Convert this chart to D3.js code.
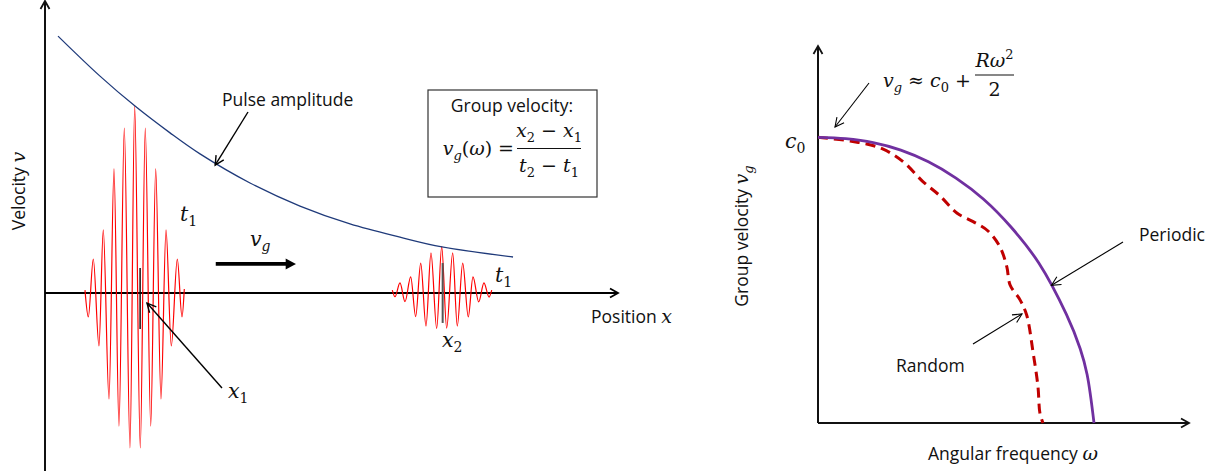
<!DOCTYPE html>
<html>
<head>
<meta charset="utf-8">
<script src="https://cdn.jsdelivr.net/npm/d3@7"></script>
<style>
  html, body { margin: 0; padding: 0; background: #fff; }
  svg { display: block; }
  .sans { font-family: "Open Sans", sans-serif; font-size: 17.5px; fill: #111; }
  .math { font-family: "DejaVu Serif", serif; font-size: 19px; fill: #111; }
  .math.big { font-size: 20.5px; }
</style>
</head>
<body>
<svg id="chart" width="1222" height="471"></svg>
<script>
// ---- Left panel: wave packets travelling along x (position units 0..100, velocity units) ----
// Extremes of the first packet [x, v]
const packetOne = [
  [6.98, 1.0], [7.56, -8.3], [8.43, 11.8], [9.42, -18.4], [10.17, 21.9],
  [11.17, -36.8], [12.04, 43.1], [12.91, -46.2], [13.84, 57.3], [14.83, -53.8],
  [15.65, 64.9], [16.63, -53.8], [17.50, 57.3], [18.45, -46.2], [19.32, 43.1],
  [20.24, -36.8], [21.12, 21.9], [22.04, -18.4], [23.09, 11.8], [23.91, -8.3],
  [24.31, 1.4]
];
// Extremes of the second (later, spread-out) packet [x, v]
const packetTwo = [
  [60.61, 1.0], [61.08, -1.3], [61.95, 3.5], [62.83, -3.0], [63.82, 5.6],
  [64.69, -8.2], [65.57, 10.4], [66.49, -11.5], [67.36, 13.9], [68.36, -12.3],
  [69.23, 16.1], [70.10, -12.2], [71.15, 13.9], [71.95, -11.5], [72.90, 10.4],
  [73.87, -8.3], [74.69, 5.6], [75.69, -3.1], [76.61, 3.5], [77.49, -1.4],
  [77.96, 1.0]
];
// Decaying pulse amplitude [x, v]
const pulseAmplitude = [
  [2.27, 89.2], [9.60, 75.3], [15.71, 64.9], [21.82, 55.6], [27.05, 48.3],
  [35.78, 38.2], [44.50, 30.2], [53.23, 24.0], [61.95, 19.4], [69.28, 16.0],
  [81.68, 12.5]
];
// Packet centres x1, x2 with marker extent [x, vLow, vHigh]
const packetCentres = [[16.6, -12.5, 8.7], [69.4, -10.4, 10.4]];

// ---- Right panel: group velocity against angular frequency (normalised) ----
const periodicCurve = [
  [0, 1], [0.1, 0.995], [0.2, 0.981], [0.3, 0.955], [0.4, 0.914], [0.5, 0.857],
  [0.6, 0.783], [0.7, 0.685], [0.8, 0.56], [0.9, 0.38], [0.95, 0.26],
  [0.975, 0.17], [1.0, 0]
];
const randomCurve = [
  [0, 1], [0.116, 0.987], [0.225, 0.963], [0.308, 0.915], [0.380, 0.845],
  [0.442, 0.795], [0.503, 0.735], [0.562, 0.705], [0.616, 0.672], [0.659, 0.617],
  [0.684, 0.547], [0.696, 0.483], [0.732, 0.431], [0.756, 0.378], [0.779, 0.249],
  [0.797, 0.127], [0.804, 0.035], [0.815, 0]
];

const svg = d3.select("#chart");
svg.append("rect").attr("width", 1222).attr("height", 471).attr("fill", "#fff");

const xL = d3.scaleLinear().domain([0, 100]).range([45, 618]);
const yL = d3.scaleLinear().domain([0, 100]).range([293, 5]);
const xR = d3.scaleLinear().domain([0, 1]).range([818, 1094]);
const yR = d3.scaleLinear().domain([0, 1]).range([423, 137.3]);

// open chevron arrowhead at (x2,y2)
function openHead(g, x1, y1, x2, y2, len, half, sw, col) {
  const a = Math.atan2(y2 - y1, x2 - x1);
  const bx = x2 - len * Math.cos(a), by = y2 - len * Math.sin(a);
  const px = -Math.sin(a) * half, py = Math.cos(a) * half;
  g.append("path")
    .attr("d", `M${bx + px},${by + py}L${x2},${y2}L${bx - px},${by - py}`)
    .attr("fill", "none").attr("stroke", col || "#000")
    .attr("stroke-width", sw).attr("stroke-linejoin", "miter");
}
function arrow(g, x1, y1, x2, y2, sw, len, half) {
  g.append("line").attr("x1", x1).attr("y1", y1).attr("x2", x2).attr("y2", y2)
    .attr("stroke", "#000").attr("stroke-width", sw);
  openHead(g, x1, y1, x2, y2, len, half, sw);
}

// text with italic / subscript / superscript pieces
function addMath(parent, x, y, segs, anchor, big) {
  const t = parent.append("text").attr("class", big ? "math big" : "math")
    .attr("x", x).attr("y", y).attr("text-anchor", anchor || "start");
  let shift = 0;
  segs.forEach(s => {
    const target = s.sub ? 5 : s.sup ? -8 : 0;
    const ts = t.append("tspan").text(s.t).attr("dy", target - shift);
    shift = target;
    if (s.sub || s.sup) ts.attr("font-size", big ? "14px" : "13px");
    if (s.it) ts.attr("font-style", "italic");
  });
  return t;
}

// ================= LEFT PANEL =================
const left = svg.append("g");

// axes
left.append("line").attr("x1", xL(0)).attr("y1", 471).attr("x2", xL(0)).attr("y2", 1)
  .attr("stroke", "#111").attr("stroke-width", 2);
openHead(left, xL(0), 100, xL(0), 1, 8, 4.5, 1.8, "#111");
left.append("line").attr("x1", xL(0)).attr("y1", yL(0)).attr("x2", 618).attr("y2", yL(0))
  .attr("stroke", "#000").attr("stroke-width", 2);
openHead(left, 500, yL(0), 618, yL(0), 8, 4.5, 1.8);

// wave packets
const waveLine = d3.line().x(d => xL(d[0])).y(d => yL(d[1])).curve(d3.curveMonotoneX);
[packetOne, packetTwo].forEach(p => {
  left.append("path").attr("d", waveLine(p)).attr("fill", "none")
    .attr("stroke", "#ff0000").attr("stroke-width", 1.2);
});

// pulse amplitude envelope
const envLine = d3.line().x(d => xL(d[0])).y(d => yL(d[1])).curve(d3.curveCatmullRom.alpha(0.5));
left.append("path").attr("d", envLine(pulseAmplitude)).attr("fill", "none")
  .attr("stroke", "#1f3a7a").attr("stroke-width", 1.3);

// packet centre markers
left.selectAll("line.centre").data(packetCentres).join("line").attr("class", "centre")
  .attr("x1", d => xL(d[0])).attr("x2", d => xL(d[0]))
  .attr("y1", d => yL(d[1])).attr("y2", d => yL(d[2]))
  .attr("stroke", (d, i) => i === 0 ? "#111" : "#555").attr("stroke-width", (d, i) => i === 0 ? 1.5 : 2);

// axis labels
const vLabel = left.append("text").attr("class", "sans")
  .attr("transform", "translate(25,191) rotate(-90)").attr("text-anchor", "middle");
vLabel.append("tspan").text("Velocity ");
vLabel.append("tspan").text("v").attr("font-family", "'DejaVu Serif', serif")
  .attr("font-style", "italic").attr("font-size", "19px");

const posLabel = left.append("text").attr("class", "sans").attr("x", 591).attr("y", 323);
posLabel.append("tspan").text("Position ");
posLabel.append("tspan").text("x").attr("font-family", "'DejaVu Serif', serif")
  .attr("font-style", "italic").attr("font-size", "19px");

// annotations
left.append("text").attr("class", "sans").attr("x", 222).attr("y", 106).text("Pulse amplitude");
arrow(left, 248, 112, xL(29.7), yL(44.4), 1.4, 9, 4.5);

addMath(left, 180, 221, [{ t: "t", it: true }, { t: "1", sub: true }], "start", true);
addMath(left, 495, 282, [{ t: "t", it: true }, { t: "1", sub: true }], "start", true);
addMath(left, 228, 398, [{ t: "x", it: true }, { t: "1", sub: true }], "start", true);
addMath(left, 442, 347, [{ t: "x", it: true }, { t: "2", sub: true }], "start", true);
arrow(left, 222, 388, xL(17.8), yL(-3.5), 1.4, 9, 4.5);

// group velocity arrow
addMath(left, 250, 246, [{ t: "v", it: true }, { t: "g", sub: true, it: true }], "start", true);
left.append("line").attr("x1", xL(29.8)).attr("y1", yL(10.1)).attr("x2", xL(42.5)).attr("y2", yL(10.1))
  .attr("stroke", "#000").attr("stroke-width", 3.6);
left.append("path")
  .attr("d", `M${xL(42.0)},${yL(10.1) - 5.5}L${xL(43.8)},${yL(10.1)}L${xL(42.0)},${yL(10.1) + 5.5}Z`)
  .attr("fill", "#000");

// definition box
left.append("rect").attr("x", 428).attr("y", 90).attr("width", 169).attr("height", 107)
  .attr("fill", "#fff").attr("stroke", "#333").attr("stroke-width", 1.2);
left.append("text").attr("class", "sans").attr("x", 512).attr("y", 112)
  .attr("text-anchor", "middle").text("Group velocity:");
addMath(left, 514, 155, [{ t: "v", it: true }, { t: "g", sub: true, it: true },
  { t: "(" }, { t: "ω", it: true }, { t: ") =" }], "end");
left.append("line").attr("x1", 517).attr("x2", 581).attr("y1", 148.5).attr("y2", 148.5)
  .attr("stroke", "#111").attr("stroke-width", 1.2);
addMath(left, 549, 137, [{ t: "x", it: true }, { t: "2", sub: true }, { t: " − " },
  { t: "x", it: true }, { t: "1", sub: true }], "middle");
addMath(left, 549, 171.5, [{ t: "t", it: true }, { t: "2", sub: true }, { t: " − " },
  { t: "t", it: true }, { t: "1", sub: true }], "middle");

// ================= RIGHT PANEL =================
const right = svg.append("g");

right.append("line").attr("x1", xR(0)).attr("y1", yR(0)).attr("x2", xR(0)).attr("y2", 46)
  .attr("stroke", "#111").attr("stroke-width", 2);
openHead(right, xR(0), 200, xR(0), 46, 8, 4.5, 1.8, "#111");
right.append("line").attr("x1", xR(0)).attr("y1", yR(0)).attr("x2", 1189).attr("y2", yR(0))
  .attr("stroke", "#111").attr("stroke-width", 2);
openHead(right, 1000, yR(0), 1189, yR(0), 8, 4.5, 1.8, "#111");

const curveLine = d3.line().x(d => xR(d[0])).y(d => yR(d[1])).curve(d3.curveCatmullRom.alpha(0.5));

right.append("path").attr("d", curveLine(randomCurve)).attr("fill", "none")
  .attr("stroke", "#c00000").attr("stroke-width", 3).attr("stroke-dasharray", "10,6");
right.append("path").attr("d", curveLine(periodicCurve)).attr("fill", "none")
  .attr("stroke", "#7030a0").attr("stroke-width", 2.8);

// labels
addMath(right, 785, 148, [{ t: "c", it: true }, { t: "0", sub: true }], "start", true);

const gvLabel = right.append("text").attr("class", "sans")
  .attr("transform", "translate(748,236) rotate(-90)").attr("text-anchor", "middle");
gvLabel.append("tspan").text("Group velocity ");
gvLabel.append("tspan").text("v").attr("font-family", "'DejaVu Serif', serif")
  .attr("font-style", "italic").attr("font-size", "19px");
gvLabel.append("tspan").text("g").attr("font-family", "'DejaVu Serif', serif")
  .attr("font-style", "italic").attr("font-size", "13px").attr("dy", 5);

const afLabel = right.append("text").attr("class", "sans").attr("x", 928).attr("y", 460);
afLabel.append("tspan").text("Angular frequency ");
afLabel.append("tspan").text("ω").attr("font-family", "'DejaVu Serif', serif")
  .attr("font-style", "italic").attr("font-size", "19px");

right.append("text").attr("class", "sans").attr("x", 1139).attr("y", 241).text("Periodic");
arrow(right, 1123, 242, xR(0.846), yR(0.482), 1.1, 9, 4.5);

right.append("text").attr("class", "sans").attr("x", 896).attr("y", 372).text("Random");
arrow(right, 973, 344, 1022, 314, 1.1, 9, 4.5);

// small-frequency approximation
addMath(right, 883, 87, [{ t: "v", it: true }, { t: "g", sub: true, it: true },
  { t: " ≈ " }, { t: "c", it: true }, { t: "0", sub: true }, { t: " +" }]);
right.append("line").attr("x1", 975).attr("x2", 1014).attr("y1", 75).attr("y2", 75)
  .attr("stroke", "#111").attr("stroke-width", 1.2);
addMath(right, 994.5, 66.5, [{ t: "Rω", it: true }, { t: "2", sup: true }], "middle");
addMath(right, 994.5, 96, [{ t: "2" }], "middle");
arrow(right, 869, 83, 835, 127, 1.1, 9, 4.5);
</script>
</body>
</html>
